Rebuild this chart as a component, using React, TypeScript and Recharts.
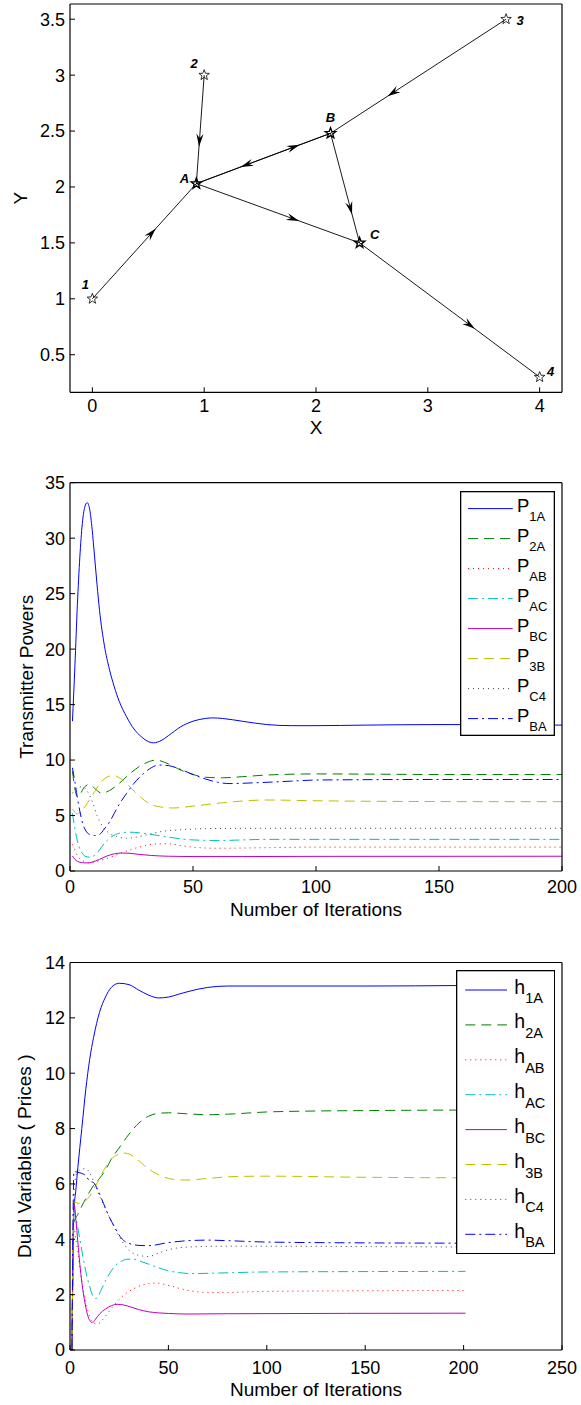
import React from 'react'
import { ScatterChart, Scatter, LineChart, Line, XAxis, YAxis, ReferenceLine, Legend } from 'recharts'

const FONT = "'Liberation Sans', Arial, Helvetica, sans-serif"

// ---------- network layout (top panel)
const nodeNames = ['1', '2', '3', '4', 'A', 'B', 'C']
const nodeX = [0, 1, 3.7, 4, 0.93, 2.13, 2.39]
const nodeY = [1, 3, 3.5, 0.3, 2.03, 2.48, 1.5]
const relayNodes = ['A', 'B', 'C']
// directed links and where along each link the arrow head sits
const linkFrom = ['1', '2', '3', 'A', 'B', 'B', 'A', 'C']
const linkTo = ['A', 'A', 'B', 'B', 'A', 'C', 'C', '4']
const arrowAt = [0.61, 0.66, 0.675, 0.77, 0.67, 0.74, 0.63, 0.64]
const mapTicksX = [0, 1, 2, 3, 4]
const mapTicksY = [0.5, 1, 1.5, 2, 2.5, 3, 3.5]

// ---------- transmitter powers (iteration, value)
const P1A = [[1, 13.5], [2, 18.5], [3, 24], [4, 28.3], [5, 31.3], [6, 32.8], [7, 33.2], [8, 32.6], [9, 30.8], [10, 28.3], [11, 25.8], [12, 23.5], [14, 20.3], [16, 18.2], [18, 16.6], [20, 15.3], [23, 13.9], [26, 12.8], [29, 12.1], [32, 11.65], [34, 11.55], [37, 11.75], [40, 12.2], [45, 13.0], [50, 13.5], [55, 13.75], [58, 13.8], [62, 13.75], [70, 13.5], [80, 13.2], [90, 13.1], [100, 13.1], [120, 13.15], [150, 13.2], [200, 13.15]]
const P2A = [[1, 9.0], [2, 7.4], [3, 6.7], [4, 6.9], [6, 7.6], [8, 7.8], [10, 7.45], [13, 7.0], [16, 7.25], [20, 7.9], [25, 8.9], [30, 9.65], [35, 10.0], [40, 9.65], [45, 9.1], [50, 8.7], [55, 8.45], [62, 8.4], [70, 8.5], [80, 8.65], [100, 8.75], [150, 8.7], [200, 8.7]]
const PAB = [[1, 2.4], [2, 1.9], [3, 1.4], [4, 1.1], [6, 0.85], [8, 0.75], [10, 0.8], [13, 1.0], [16, 1.2], [20, 1.55], [25, 1.95], [30, 2.25], [35, 2.45], [40, 2.45], [45, 2.3], [50, 2.15], [60, 2.05], [80, 2.1], [100, 2.15], [200, 2.15]]
const PAC = [[1, 5.2], [2, 3.8], [3, 2.7], [4, 2.0], [5, 1.6], [6, 1.35], [8, 1.25], [10, 1.4], [12, 1.9], [14, 2.5], [17, 3.1], [20, 3.4], [24, 3.5], [28, 3.45], [33, 3.3], [40, 3.05], [50, 2.8], [60, 2.75], [80, 2.85], [100, 2.85], [200, 2.85]]
const PBC = [[1, 1.35], [2, 1.05], [3, 0.88], [5, 0.75], [7, 0.72], [9, 0.8], [12, 1.05], [15, 1.35], [18, 1.55], [21, 1.62], [24, 1.6], [28, 1.5], [33, 1.4], [40, 1.33], [50, 1.3], [70, 1.3], [100, 1.32], [200, 1.33]]
const P3B = [[1, 5.6], [2, 5.3], [3, 5.15], [5, 5.5], [7, 6.1], [9, 6.8], [11, 7.5], [13, 8.1], [16, 8.55], [18, 8.6], [20, 8.4], [23, 7.9], [26, 7.2], [29, 6.6], [32, 6.1], [36, 5.8], [42, 5.68], [50, 5.85], [62, 6.15], [80, 6.4], [100, 6.33], [150, 6.26], [200, 6.25]]
const PC4 = [[1, 7.0], [3, 7.5], [5, 7.6], [7, 7.2], [9, 6.3], [11, 5.0], [13, 4.1], [16, 3.4], [19, 3.1], [23, 2.95], [27, 3.05], [32, 3.3], [37, 3.55], [45, 3.72], [55, 3.82], [80, 3.85], [200, 3.85]]
const PBA = [[1, 9.3], [2, 8.0], [3, 6.6], [4, 5.4], [5, 4.4], [6, 3.8], [7, 3.45], [8, 3.3], [10, 3.2], [12, 3.3], [14, 3.8], [16, 4.4], [18, 5.2], [20, 6.0], [23, 7.0], [26, 7.9], [30, 8.8], [33, 9.3], [36, 9.55], [40, 9.5], [45, 9.15], [50, 8.7], [55, 8.3], [60, 8.0], [65, 7.88], [75, 7.95], [90, 8.1], [100, 8.2], [150, 8.25], [200, 8.25]]

// ---------- dual variables (iteration, value)
const H1A = [[1, 0], [2, 5.0], [3, 5.8], [4, 6.6], [6, 8.0], [8, 9.4], [10, 10.5], [12, 11.3], [15, 12.2], [18, 12.75], [21, 13.1], [25, 13.25], [30, 13.2], [35, 13.0], [40, 12.82], [45, 12.72], [50, 12.75], [55, 12.85], [60, 12.95], [70, 13.1], [80, 13.15], [100, 13.15], [150, 13.15], [201, 13.17]]
const H2A = [[1, 0], [2, 4.6], [4, 4.9], [6, 5.2], [9, 5.6], [12, 5.95], [15, 6.2], [18, 6.5], [21, 6.9], [25, 7.3], [30, 7.8], [35, 8.2], [40, 8.45], [45, 8.55], [50, 8.57], [60, 8.53], [70, 8.5], [80, 8.52], [100, 8.6], [120, 8.63], [150, 8.65], [201, 8.67]]
const HAB = [[1, 0], [2, 4.4], [3, 4.0], [4, 3.55], [5, 3.0], [6, 2.5], [7, 2.1], [8, 1.75], [9, 1.45], [10, 1.2], [12, 0.98], [14, 0.94], [16, 1.05], [18, 1.22], [21, 1.5], [24, 1.75], [28, 2.02], [32, 2.2], [36, 2.33], [40, 2.4], [44, 2.42], [48, 2.37], [52, 2.3], [57, 2.2], [62, 2.13], [70, 2.08], [80, 2.08], [100, 2.12], [201, 2.15]]
const HAC = [[1, 0], [2, 5.1], [3, 4.8], [4, 4.4], [5, 4.0], [6, 3.6], [7, 3.2], [8, 2.85], [9, 2.55], [10, 2.3], [11, 2.05], [12, 1.9], [13, 1.86], [14, 1.9], [16, 2.2], [18, 2.5], [20, 2.75], [23, 3.05], [26, 3.2], [29, 3.28], [32, 3.28], [36, 3.2], [40, 3.1], [45, 2.97], [50, 2.86], [55, 2.8], [62, 2.76], [75, 2.78], [100, 2.82], [201, 2.84]]
const HBC = [[1, 0], [2, 5.3], [3, 4.7], [4, 3.9], [5, 3.1], [6, 2.45], [7, 1.95], [8, 1.55], [9, 1.25], [10, 1.07], [11, 1.0], [12, 1.02], [13, 1.12], [15, 1.3], [18, 1.48], [21, 1.6], [24, 1.65], [27, 1.63], [31, 1.55], [35, 1.46], [40, 1.38], [45, 1.34], [50, 1.32], [60, 1.3], [80, 1.31], [201, 1.33]]
const H3B = [[1, 0], [2, 5.35], [4, 5.3], [6, 5.32], [8, 5.4], [10, 5.55], [12, 5.8], [15, 6.2], [18, 6.6], [21, 6.9], [24, 7.05], [27, 7.12], [30, 7.08], [34, 6.9], [38, 6.65], [42, 6.45], [46, 6.3], [50, 6.2], [55, 6.15], [60, 6.14], [70, 6.2], [85, 6.27], [100, 6.28], [150, 6.24], [201, 6.22]]
const HC4 = [[1, 0], [2, 5.5], [3, 6.3], [5, 6.5], [8, 6.55], [10, 6.4], [13, 5.9], [16, 5.4], [20, 4.8], [25, 4.1], [30, 3.6], [35, 3.42], [40, 3.38], [45, 3.5], [50, 3.62], [60, 3.72], [80, 3.75], [201, 3.72]]
const HBA = [[1, 0], [2, 6.45], [4, 6.42], [6, 6.38], [8, 6.3], [10, 6.1], [12, 6.05], [14, 5.8], [17, 5.3], [20, 4.8], [23, 4.4], [26, 4.05], [30, 3.85], [35, 3.78], [40, 3.77], [50, 3.88], [60, 3.95], [70, 3.97], [80, 3.95], [100, 3.9], [150, 3.87], [201, 3.86]]

const subNames = ['1A', '2A', 'AB', 'AC', 'BC', '3B', 'C4', 'BA']
const powerSeries = [P1A, P2A, PAB, PAC, PBC, P3B, PC4, PBA]
const priceSeries = [H1A, H2A, HAB, HAC, HBC, H3B, HC4, HBA]
const powerTicksX = [0, 50, 100, 150, 200]
const powerTicksY = [0, 5, 10, 15, 20, 25, 30, 35]
const priceTicksX = [0, 50, 100, 150, 200, 250]
const priceTicksY = [0, 2, 4, 6, 8, 10, 12, 14]

// matlab-ish colour order and line styles
const seriesStyle = [
  { color: '#0000ff', dash: undefined },
  { color: '#008000', dash: '10 6' },
  { color: '#ff0000', dash: '1 4' },
  { color: '#00bfbf', dash: '10 4 2 4' },
  { color: '#bf00bf', dash: undefined },
  { color: '#bfbf00', dash: '10 6' },
  { color: '#404040', dash: '1 4' },
  { color: '#0000ff', dash: '10 4 2 4' },
]

const labelOffset: Record<string, [number, number]> = {
  '1': [-7, -14], '2': [-10, -12], '3': [14, 1], '4': [11, -6],
  A: [-12, -5], B: [0, -16], C: [15, -8],
}

const tickStyle = { fill: '#000', fontSize: 18, fontFamily: FONT }
const titleStyle = { fill: '#000', fontSize: 19, fontFamily: FONT }
const frameLine = { stroke: '#000', strokeWidth: 1.2 }

function frameAxes(o: any) {
  return [
    <XAxis key="xb" dataKey="x" type="number" domain={o.xDomain} ticks={o.xTicks} interval={0} allowDataOverflow
      height={o.xHeight} tickSize={-5} tickMargin={o.xTickMargin} tick={tickStyle} stroke="#000" axisLine={frameLine}
      label={{ value: o.xLabel, position: 'insideBottom', offset: o.xLabelOffset, ...titleStyle }} />,
    <XAxis key="xt" xAxisId="top" orientation="top" type="number" domain={o.xDomain} ticks={o.xTicks} interval={0}
      allowDataOverflow height={1} tickSize={-5} tick={false} stroke="#000" axisLine={frameLine} />,
    <YAxis key="yl" dataKey="y" type="number" domain={o.yDomain} ticks={o.yTicks} interval={0} allowDataOverflow
      width={70} tickSize={-5} tickMargin={10} tick={tickStyle} stroke="#000" axisLine={frameLine}
      label={{ value: o.yLabel, angle: -90, position: 'insideLeft', offset: o.yLabelOffset, style: { textAnchor: 'middle' }, ...titleStyle }} />,
    <YAxis key="yr" yAxisId="right" orientation="right" type="number" domain={o.yDomain} ticks={o.yTicks} interval={0}
      allowDataOverflow width={1} tickSize={-5} tick={false} stroke="#000" axisLine={frameLine} />,
  ]
}

function Link(props: any) {
  const { x1, y1, x2, y2, at } = props
  const tx = x1 + (x2 - x1) * at
  const ty = y1 + (y2 - y1) * at
  const ang = (Math.atan2(y2 - y1, x2 - x1) * 180) / Math.PI
  return (
    <g>
      <line x1={x1} y1={y1} x2={x2} y2={y2} stroke="#000" strokeWidth={0.9} />
      <path d="M0,0 L-13,-3.6 L-8.5,0 L-13,3.6 Z" fill="#000" transform={`translate(${tx},${ty}) rotate(${ang})`} />
    </g>
  )
}

function StarNode(props: any) {
  const { cx, cy, payload } = props
  const pts: string[] = []
  for (let i = 0; i < 10; i++) {
    const r = i % 2 === 0 ? 5.5 : 2.3
    const a = -Math.PI / 2 + (i * Math.PI) / 5
    pts.push(`${cx + r * Math.cos(a)},${cy + r * Math.sin(a)}`)
  }
  const [dx, dy] = labelOffset[payload.name]
  const relay = relayNodes.includes(payload.name)
  return (
    <g>
      <polygon points={pts.join(' ')} fill="none" stroke="#000" strokeWidth={relay ? 1.4 : 0.8} />
      <text x={cx + dx} y={cy + dy} textAnchor="middle" dominantBaseline="central" fontSize={13}
        fontWeight="bold" fontStyle="italic" fontFamily={FONT} fill="#000">{payload.name}</text>
    </g>
  )
}

function NetworkChart() {
  const nodes = nodeNames.map((name, i) => ({ name, x: nodeX[i], y: nodeY[i] }))
  const pos = (n: string) => nodes[nodeNames.indexOf(n)]
  return (
    <ScatterChart width={581} height={440} margin={{ top: 3, right: 18, bottom: 0, left: 0 }}>
      {frameAxes({
        xDomain: [-0.2, 4.2], xTicks: mapTicksX, yDomain: [0.164, 3.636], yTicks: mapTicksY,
        xHeight: 47.7, xTickMargin: 12, xLabel: 'X', xLabelOffset: 6, yLabel: 'Y', yLabelOffset: 20,
      })}
      {linkFrom.map((f, i) => {
        const a = pos(f)
        const b = pos(linkTo[i])
        return (
          <ReferenceLine key={f + linkTo[i]} segment={[{ x: a.x, y: a.y }, { x: b.x, y: b.y }]}
            shape={(p: any) => <Link {...p} at={arrowAt[i]} />} />
        )
      })}
      <Scatter data={nodes} isAnimationActive={false} shape={(p: any) => <StarNode {...p} />} />
    </ScatterChart>
  )
}

function LegendBox(o: any) {
  return (
    <svg width={o.w} height={o.h} style={{ display: 'block' }}>
      <rect x={0.65} y={0.65} width={o.w - 1.3} height={o.h - 1.3} fill="#fff" stroke="#000" strokeWidth={1.3} />
      {subNames.map((n, i) => {
        const cy = o.first + o.step * i
        return (
          <g key={n}>
            <line x1={o.l1} x2={o.l2} y1={cy} y2={cy} stroke={seriesStyle[i].color} strokeWidth={1}
              strokeDasharray={seriesStyle[i].dash} />
            <text x={o.tx} y={cy + 3.5} fontSize={o.font} fontFamily={FONT} fill="#000">
              {o.letter}<tspan dy={o.subDy} fontSize={o.subFont}>{n}</tspan>
            </text>
          </g>
        )
      })}
    </svg>
  )
}

function SeriesChart(o: any) {
  return (
    <LineChart width={581} height={o.height} margin={{ top: o.top, right: 18, bottom: 0, left: 0 }}>
      {frameAxes(o)}
      {o.series.map((s: number[][], i: number) => (
        <Line key={subNames[i]} data={s.map(([x, y]) => ({ x, y }))} dataKey="y" name={o.letter + subNames[i]}
          type="monotone" stroke={seriesStyle[i].color} strokeWidth={1} strokeDasharray={seriesStyle[i].dash}
          dot={false} activeDot={false} isAnimationActive={false} />
      ))}
      <Legend layout="vertical" align="center" verticalAlign="middle"
        wrapperStyle={{ left: o.legend.left, top: o.legend.top, width: o.legend.w, height: o.legend.h }}
        content={() => <LegendBox {...o.legend} letter={o.letter} />} />
    </LineChart>
  )
}

export default function App() {
  return (
    <div style={{ position: 'absolute', left: 0, top: 0, width: 581, height: 1405, background: '#fff' }}>
      <div style={{ position: 'absolute', left: 0, top: 0 }}>
        <NetworkChart />
      </div>
      <div style={{ position: 'absolute', left: 0, top: 440 }}>
        <SeriesChart height={480} top={41.7} series={powerSeries} letter="P"
          xDomain={[0, 200]} xTicks={powerTicksX} yDomain={[0, 35]} yTicks={powerTicksY}
          xHeight={49} xTickMargin={14.5} xLabel="Number of Iterations" xLabelOffset={4}
          yLabel="Transmitter Powers" yLabelOffset={26}
          legend={{ left: 460, top: 50.7, w: 95, h: 245, first: 17.6, step: 30, l1: 8, l2: 52.7, tx: 57, font: 18.5, subFont: 13, subDy: 9 }} />
      </div>
      <div style={{ position: 'absolute', left: 0, top: 920 }}>
        <SeriesChart height={485} top={41.5} series={priceSeries} letter="h"
          xDomain={[0, 250]} xTicks={priceTicksX} yDomain={[0, 14]} yTicks={priceTicksY}
          xHeight={55} xTickMargin={16.5} xLabel="Number of Iterations" xLabelOffset={9}
          yLabel="Dual Variables ( Prices )" yLabelOffset={24}
          legend={{ left: 455.7, top: 50, w: 99.3, h: 284.3, first: 20, step: 34.9, l1: 9.3, l2: 51, tx: 58.3, font: 19.5, subFont: 14.5, subDy: 9.5 }} />
      </div>
    </div>
  )
}
